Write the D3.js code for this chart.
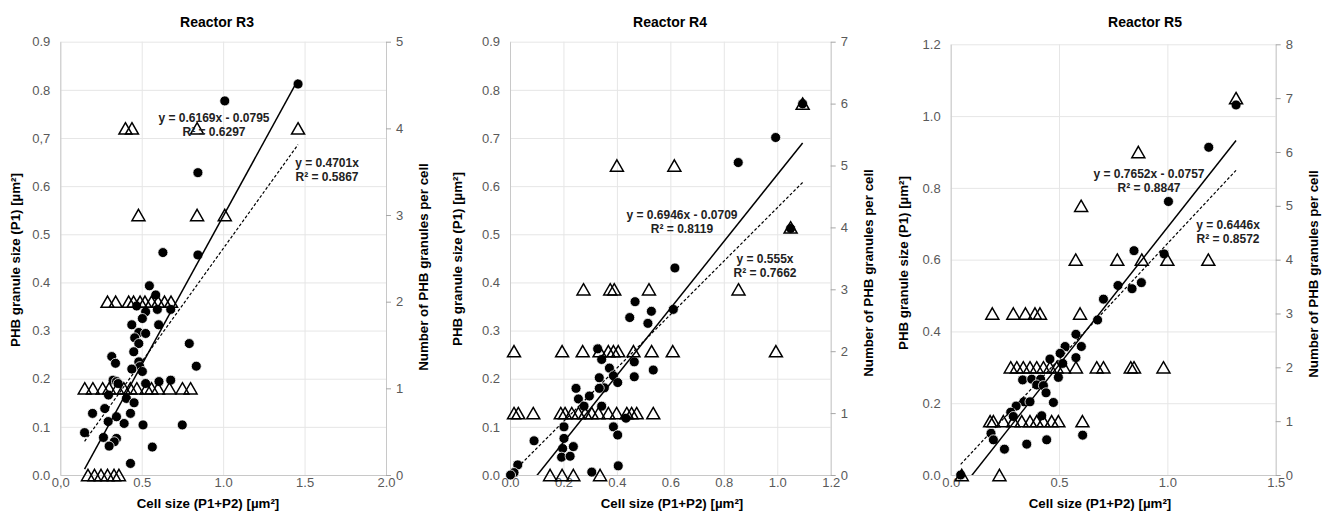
<!DOCTYPE html>
<html>
<head>
<meta charset="utf-8">
<script src="https://cdn.jsdelivr.net/npm/d3@7"></script>
<style>
  body { margin: 0; background: #fff; }
  svg { font-family: "Liberation Sans", Arial, sans-serif; }
  .grid line { stroke: #e6e6e6; stroke-width: 1; }
  .grid path { display: none; }
  .axis text { fill: #595959; font-size: 13px; }
  .axis path { stroke: #c8c8c8; }
  .axis line { stroke: #a6a6a6; }
  .title { font-weight: bold; font-size: 14px; }
  .axis-title { font-weight: bold; font-size: 13.3px; }
  .eq { font-weight: bold; font-size: 12px; fill: #222; }
</style>
</head>
<body>
<svg width="1323" height="526"></svg>
<script>
// reactor R3 - granule size (circles, left axis) and granule count (triangles, right axis)
let r3CellSize = [1.46, 1.01, 0.845, 0.845, 0.63, 0.547, 0.586, 0.524, 0.596, 0.678, 0.469, 0.504, 0.439, 0.604, 0.482, 0.524, 0.457, 0.482, 0.451, 0.792, 0.835, 0.316, 0.339, 0.482, 0.488, 0.439, 0.504, 0.324, 0.345, 0.606, 0.678, 0.355, 0.524, 0.296, 0.406, 0.453, 0.198, 0.273, 0.431, 0.345, 0.294, 0.392, 0.508, 0.749, 0.149, 0.265, 0.345, 0.331, 0.300, 0.565, 0.431];
let r3GranuleSize = [0.812, 0.777, 0.628, 0.457, 0.462, 0.393, 0.374, 0.339, 0.344, 0.344, 0.351, 0.325, 0.312, 0.312, 0.296, 0.294, 0.285, 0.273, 0.256, 0.273, 0.226, 0.246, 0.232, 0.235, 0.225, 0.220, 0.215, 0.197, 0.194, 0.194, 0.197, 0.190, 0.190, 0.166, 0.159, 0.150, 0.128, 0.138, 0.128, 0.121, 0.111, 0.107, 0.104, 0.104, 0.088, 0.078, 0.076, 0.069, 0.060, 0.058, 0.024];
let r3CountCellSize = [0.40, 0.44, 0.84, 1.46, 0.48, 0.84, 1.01, 0.29, 0.34, 0.42, 0.45, 0.49, 0.52, 0.56, 0.60, 0.64, 0.68, 0.15, 0.20, 0.26, 0.30, 0.35, 0.39, 0.43, 0.47, 0.53, 0.56, 0.60, 0.67, 0.75, 0.80, 0.17, 0.21, 0.25, 0.29, 0.33, 0.36];
let r3GranuleCount = [4, 4, 4, 4, 3, 3, 3, 2, 2, 2, 2, 2, 2, 2, 2, 2, 2, 1, 1, 1, 1, 1, 1, 1, 1, 1, 1, 1, 1, 1, 1, 0, 0, 0, 0, 0, 0];
let r3Fit = [0.6169, -0.0795, 0.6297];   // slope, intercept, r2
let r3FitOrigin = [0.4701, 0.5867];      // slope, r2

// reactor R4
let r4CellSize = [0.994, 0.854, 0.617, 0.611, 0.468, 0.448, 0.529, 0.516, 0.465, 0.465, 0.536, 0.328, 0.343, 0.372, 0.334, 0.387, 0.403, 0.353, 0.334, 0.247, 0.256, 0.297, 0.277, 0.343, 0.434, 0.387, 0.403, 0.202, 0.202, 0.090, 0.197, 0.237, 0.193, 0.225, 0.405, 0.306, 0.029, 0.015, 0.002, 1.095, 1.050];
let r4GranuleSize = [0.701, 0.649, 0.430, 0.344, 0.360, 0.327, 0.340, 0.315, 0.235, 0.204, 0.218, 0.262, 0.240, 0.222, 0.202, 0.206, 0.192, 0.181, 0.180, 0.180, 0.158, 0.164, 0.143, 0.143, 0.118, 0.100, 0.083, 0.100, 0.076, 0.071, 0.055, 0.059, 0.037, 0.039, 0.019, 0.006, 0.021, 0.005, 0.0, 0.771, 0.512];
let r4CountCellSize = [1.095, 0.40, 0.615, 1.05, 0.275, 0.375, 0.39, 0.52, 0.855, 0.015, 0.195, 0.272, 0.335, 0.368, 0.387, 0.405, 0.462, 0.530, 0.609, 0.995, 0.015, 0.031, 0.087, 0.190, 0.206, 0.231, 0.256, 0.281, 0.306, 0.331, 0.368, 0.399, 0.437, 0.455, 0.474, 0.536, 0.150, 0.195, 0.237, 0.337];
let r4GranuleCount = [6, 5, 5, 4, 3, 3, 3, 3, 3, 2, 2, 2, 2, 2, 2, 2, 2, 2, 2, 2, 1, 1, 1, 1, 1, 1, 1, 1, 1, 1, 1, 1, 1, 1, 1, 1, 0, 0, 0, 0];
let r4Fit = [0.6946, -0.0709, 0.8119];
let r4FitOrigin = [0.555, 0.7662];

// reactor R5
let r5CellSize = [1.317, 1.191, 1.005, 0.846, 0.985, 0.772, 0.837, 0.880, 0.705, 0.678, 0.578, 0.603, 0.528, 0.505, 0.578, 0.458, 0.517, 0.497, 0.332, 0.374, 0.415, 0.397, 0.428, 0.440, 0.338, 0.366, 0.302, 0.277, 0.474, 0.289, 0.420, 0.186, 0.197, 0.609, 0.351, 0.443, 0.248, 0.046];
let r5GranuleSize = [1.031, 0.913, 0.762, 0.625, 0.616, 0.528, 0.519, 0.536, 0.490, 0.432, 0.392, 0.358, 0.358, 0.339, 0.327, 0.323, 0.311, 0.272, 0.265, 0.267, 0.267, 0.251, 0.249, 0.229, 0.204, 0.204, 0.192, 0.175, 0.202, 0.163, 0.165, 0.116, 0.098, 0.111, 0.086, 0.098, 0.072, 0.0];
let r5CountCellSize = [1.317, 0.866, 0.602, 0.577, 0.769, 0.882, 1.000, 1.189, 0.192, 0.289, 0.345, 0.389, 0.412, 0.597, 0.277, 0.305, 0.335, 0.366, 0.397, 0.428, 0.458, 0.489, 0.523, 0.578, 0.674, 0.705, 0.831, 0.846, 0.982, 0.182, 0.197, 0.243, 0.289, 0.328, 0.366, 0.397, 0.428, 0.466, 0.497, 0.608, 0.051, 0.225];
let r5GranuleCount = [7, 6, 5, 4, 4, 4, 4, 4, 3, 3, 3, 3, 3, 3, 2, 2, 2, 2, 2, 2, 2, 2, 2, 2, 2, 2, 2, 2, 2, 1, 1, 1, 1, 1, 1, 1, 1, 1, 1, 1, 0, 0];
let r5Fit = [0.7652, -0.0757, 0.8847];
let r5FitOrigin = [0.6446, 0.8572];

// tick values and labels
let r3XTicks = [0, 0.5, 1, 1.5, 2];
let r3XLabels = ["0,0", "0.5", "1.0", "1.5", "2.0"];
let r3YTicks = [0, 0.1, 0.2, 0.3, 0.4, 0.5, 0.6, 0.7, 0.8, 0.9];
let r3YLabels = ["0.0", "0.1", "0.2", "0.3", "0.4", "0.5", "0.6", "0,7", "0.8", "0.9"];
let r3RTicks = [0, 1, 2, 3, 4, 5];

let r4XTicks = [0, 0.2, 0.4, 0.6, 0.8, 1, 1.2];
let r4XLabels = ["0.0", "0.2", "0.4", "0.6", "0.8", "1.0", "1.2"];
let r4YTicks = [0, 0.1, 0.2, 0.3, 0.4, 0.5, 0.6, 0.7, 0.8, 0.9];
let r4YLabels = ["0.0", "0.1", "0.2", "0.3", "0.4", "0.5", "0.6", "0.7", "0.8", "0.9"];
let r4RTicks = [0, 1, 2, 3, 4, 5, 6, 7];

let r5XTicks = [0, 0.5, 1, 1.5];
let r5XLabels = ["0.0", "0.5", "1.0", "1.5"];
let r5YTicks = [0, 0.2, 0.4, 0.6, 0.8, 1, 1.2];
let r5YLabels = ["0.0", "0.2", "0.4", "0.6", "0.8", "1.0", "1.2"];
let r5RTicks = [0, 1, 2, 3, 4, 5, 6, 7, 8];

let titles = ["Reactor R3", "Reactor R4", "Reactor R5"];
let xTitle = "Cell size (P1+P2) [µm²]";
let yTitle = "PHB granule size (P1) [µm²]";
let rTitle = "Number of PHB granules per cell";

// build panel table from the arrays above
let panels = [
  {title: titles[0], cx: r3CellSize, cy: r3GranuleSize, tx: r3CountCellSize, ty: r3GranuleCount, fit: r3Fit, fit0: r3FitOrigin,
   xTicks: r3XTicks, xLabels: r3XLabels, yTicks: r3YTicks, yLabels: r3YLabels, rTicks: r3RTicks},
  {title: titles[1], cx: r4CellSize, cy: r4GranuleSize, tx: r4CountCellSize, ty: r4GranuleCount, fit: r4Fit, fit0: r4FitOrigin,
   xTicks: r4XTicks, xLabels: r4XLabels, yTicks: r4YTicks, yLabels: r4YLabels, rTicks: r4RTicks},
  {title: titles[2], cx: r5CellSize, cy: r5GranuleSize, tx: r5CountCellSize, ty: r5GranuleCount, fit: r5Fit, fit0: r5FitOrigin,
   xTicks: r5XTicks, xLabels: r5XLabels, yTicks: r5YTicks, yLabels: r5YLabels, rTicks: r5RTicks}
];

// where each panel sits on the page
let layout = [
  {left: 60.3, right: 386, top: 41.7, bottom: 475, titleX: 217, xTitleX: 208, yTitleX: 15, yTitleY: 260, rTitleX: 423, rTitleY: 267,
   eq1: [214, 118], eq2: [327, 163]},
  {left: 510, right: 830.7, top: 41.7, bottom: 475, titleX: 670, xTitleX: 672, yTitleX: 457, yTitleY: 259, rTitleX: 868, rTitleY: 273,
   eq1: [682, 215], eq2: [765, 259]},
  {left: 950.7, right: 1275.7, top: 44.3, bottom: 475, titleX: 1145, xTitleX: 1100, yTitleX: 903, yTitleY: 263, rTitleX: 1313, rTitleY: 274,
   eq1: [1149, 174], eq2: [1228, 225]}
];

let svg = d3.select("svg");

// triangle marker, centred on its box like excel does
function triangle(s) {
  let h = s * 0.87;
  return "M0," + (-h / 2) + "L" + (s / 2) + "," + (h / 2) + "L" + (-s / 2) + "," + (h / 2) + "Z";
}

panels.forEach(function (p, i) {
  let lay = layout[i];
  let w = lay.right - lay.left;
  let h = lay.bottom - lay.top;

  let x = d3.scaleLinear().domain([0, d3.max(p.xTicks)]).range([lay.left, lay.right]);
  let y = d3.scaleLinear().domain([0, d3.max(p.yTicks)]).range([lay.bottom, lay.top]);
  let yR = d3.scaleLinear().domain([0, d3.max(p.rTicks)]).range([lay.bottom, lay.top]);

  let g = svg.append("g");

  // gridlines
  g.append("g")
    .attr("class", "grid")
    .attr("transform", "translate(0," + lay.bottom + ")")
    .call(d3.axisBottom(x).tickValues(p.xTicks).tickSize(-h).tickFormat(""));

  g.append("g")
    .attr("class", "grid")
    .attr("transform", "translate(" + lay.left + ",0)")
    .call(d3.axisLeft(y).tickValues(p.yTicks).tickSize(-w).tickFormat(""));

  // axes
  g.append("g")
    .attr("class", "axis")
    .attr("transform", "translate(0," + lay.bottom + ")")
    .call(d3.axisBottom(x).tickValues(p.xTicks).tickSize(0).tickPadding(3)
      .tickFormat(function (d, j) { return p.xLabels[j]; }))
    .select(".domain").attr("stroke", "#bfbfbf");

  g.append("g")
    .attr("class", "axis")
    .attr("transform", "translate(" + lay.left + ",0)")
    .call(d3.axisLeft(y).tickValues(p.yTicks).tickSize(0).tickPadding(10)
      .tickFormat(function (d, j) { return p.yLabels[j]; }))
    .select(".domain").attr("stroke", "#dcdcdc");

  g.append("g")
    .attr("class", "axis")
    .attr("transform", "translate(" + lay.right + ",0)")
    .call(d3.axisRight(yR).tickValues(p.rTicks).tickSizeInner(5).tickSizeOuter(0).tickPadding(5)
      .tickFormat(d3.format("d")))
    .select(".domain").attr("stroke", "#a6a6a6");

  // circles - granule size
  let circles = p.cx.map(function (d, j) { return [d, p.cy[j]]; });
  g.append("g")
    .selectAll("circle")
    .data(circles)
    .join("circle")
    .attr("cx", d => x(d[0]))
    .attr("cy", d => y(d[1]))
    .attr("r", 5)
    .style("fill", "#000")
    .style("stroke", "#fff")
    .style("stroke-width", 0.8);

  // triangles - granules per cell
  let tris = p.tx.map(function (d, j) { return [d, p.ty[j]]; });
  g.append("g")
    .selectAll("path")
    .data(tris)
    .join("path")
    .attr("transform", d => "translate(" + x(d[0]) + "," + yR(d[1]) + ")")
    .attr("d", triangle(13))
    .style("fill", "none")
    .style("stroke", "#000")
    .style("stroke-width", 1.5);

  // trend lines, clipped to the plot area
  let clipId = "clip" + i;
  svg.append("clipPath").attr("id", clipId)
    .append("rect")
    .attr("x", lay.left).attr("y", lay.top)
    .attr("width", w).attr("height", h);

  let ext = d3.extent(p.cx);
  let line = d3.line().x(d => x(d[0])).y(d => y(d[1]));

  g.append("path")
    .attr("clip-path", "url(#" + clipId + ")")
    .attr("d", line(ext.map(v => [v, p.fit[0] * v + p.fit[1]])))
    .style("fill", "none")
    .style("stroke", "#000")
    .style("stroke-width", 1.5);

  g.append("path")
    .attr("clip-path", "url(#" + clipId + ")")
    .attr("d", line(ext.map(v => [v, p.fit0[0] * v])))
    .style("fill", "none")
    .style("stroke", "#000")
    .style("stroke-width", 1.2)
    .style("stroke-dasharray", "3,2");

  // equation labels
  let eq1 = g.append("text").attr("class", "eq").attr("text-anchor", "middle");
  eq1.append("tspan").attr("x", lay.eq1[0]).attr("y", lay.eq1[1]).attr("dy", "0.35em")
    .text("y = " + p.fit[0] + "x - " + Math.abs(p.fit[1]));
  eq1.append("tspan").attr("x", lay.eq1[0]).attr("y", lay.eq1[1] + 14).attr("dy", "0.35em")
    .text("R² = " + p.fit[2]);

  let eq2 = g.append("text").attr("class", "eq").attr("text-anchor", "middle");
  eq2.append("tspan").attr("x", lay.eq2[0]).attr("y", lay.eq2[1]).attr("dy", "0.35em")
    .text("y = " + p.fit0[0] + "x");
  eq2.append("tspan").attr("x", lay.eq2[0]).attr("y", lay.eq2[1] + 14).attr("dy", "0.35em")
    .text("R² = " + p.fit0[1]);

  // titles
  g.append("text")
    .attr("class", "title")
    .attr("x", lay.titleX)
    .attr("y", 27)
    .attr("text-anchor", "middle")
    .text(p.title);

  g.append("text")
    .attr("class", "axis-title")
    .attr("x", lay.xTitleX)
    .attr("y", 508)
    .attr("text-anchor", "middle")
    .text(xTitle);

  g.append("text")
    .attr("class", "axis-title")
    .attr("transform", "translate(" + lay.yTitleX + "," + lay.yTitleY + ") rotate(-90)")
    .attr("dy", "0.35em")
    .attr("text-anchor", "middle")
    .text(yTitle);

  g.append("text")
    .attr("class", "axis-title")
    .attr("transform", "translate(" + lay.rTitleX + "," + lay.rTitleY + ") rotate(-90)")
    .attr("dy", "0.35em")
    .attr("text-anchor", "middle")
    .text(rTitle);
});
</script>
</body>
</html>
